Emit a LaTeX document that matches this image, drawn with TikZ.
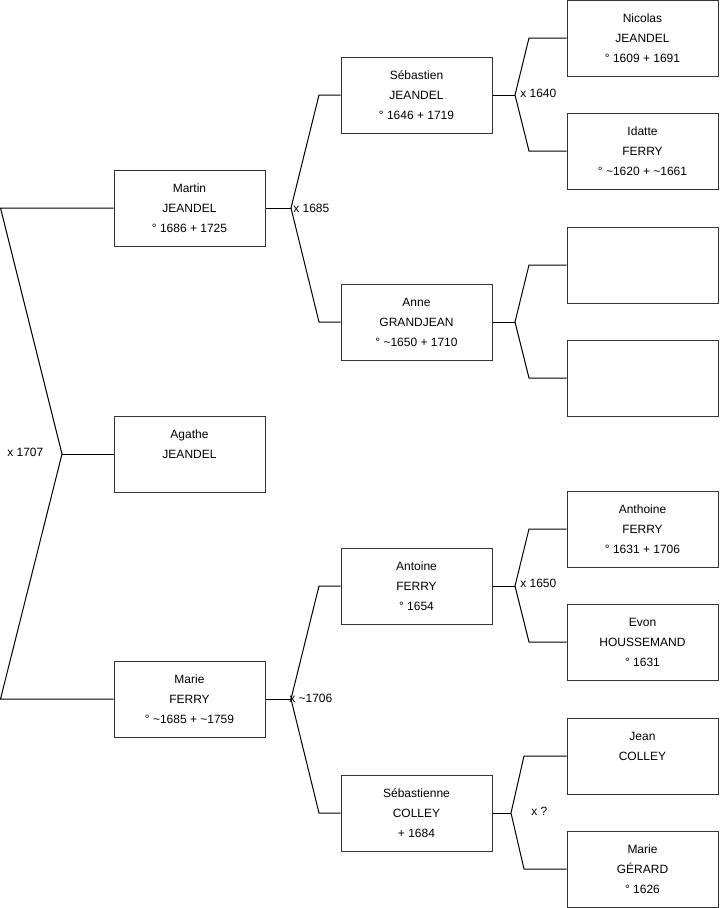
\documentclass[tikz,border=0pt]{standalone}
\usepackage{fontspec}
\setmainfont{Liberation Sans}
\begin{document}
\begin{tikzpicture}[x=0.75pt,y=-0.75pt,
  person/.style={draw=black!80,line width=0.75pt,minimum width=151*0.75pt,minimum height=76*0.75pt,
    inner sep=0pt,align=center,font=\fontsize{9}{15}\selectfont},
  link/.style={draw=black,line width=0.75pt},
  mlabel/.style={anchor=west,inner sep=0pt,font=\fontsize{9}{11}\selectfont}]
\useasboundingbox (0,0) rectangle (719,908);
% level 1
\node[person] (martin) at (189.5,208) {Martin\\JEANDEL\\° 1686 + 1725};
\node[person] (agathe) at (189.5,454) {Agathe\\JEANDEL\\\mbox{}};
\node[person] (marie) at (189.5,699) {Marie\\FERRY\\° \textasciitilde1685 + \textasciitilde1759};
% level 2
\node[person] (sebastien) at (416.5,95) {Sébastien\\JEANDEL\\° 1646 + 1719};
\node[person] (anne) at (416.5,322) {Anne\\GRANDJEAN\\° \textasciitilde1650 + 1710};
\node[person] (antoine) at (416.5,586) {Antoine\\FERRY\\° 1654};
\node[person] (sebastienne) at (416.5,813) {Sébastienne\\COLLEY\\+ 1684};
% level 3
\node[person] (nicolas) at (642.5,38) {Nicolas\\JEANDEL\\° 1609 + 1691};
\node[person] (idatte) at (642.5,151) {Idatte\\FERRY\\° \textasciitilde1620 + \textasciitilde1661};
\node[person] (empa) at (642.5,265) {};
\node[person] (empb) at (642.5,378) {};
\node[person] (anthoine) at (642.5,529) {Anthoine\\FERRY\\° 1631 + 1706};
\node[person] (evon) at (642.5,642) {Evon\\HOUSSEMAND\\° 1631};
\node[person] (jean) at (642.5,756) {Jean\\COLLEY\\\mbox{}};
\node[person] (mgerard) at (642.5,869) {Marie\\GÉRARD\\° 1626};
% root fork
\coordinate (r0) at (62,454);
\coordinate (r1) at (0.5,208);
\coordinate (r2) at (0.5,699);
\draw[link] (martin.west) -- (r1) -- (r0) -- (r2) -- (marie.west);
\draw[link] (r0) -- (agathe.west);
\node[mlabel] (l1707) at (7,452) {x 1707};
% Martin fork
\coordinate (m0) at (291,208);
\coordinate (m1) at (319,95);
\coordinate (m2) at (319,322);
\draw[link] (martin.east) -- (m0);
\draw[link] (sebastien.west) -- (m1) -- (m0) -- (m2) -- (anne.west);
\node[mlabel] (l1685) at (293,208) {x 1685};
% Marie fork
\coordinate (f0) at (291,699);
\coordinate (f1) at (319,586);
\coordinate (f2) at (319,813);
\draw[link] (marie.east) -- (f0);
\draw[link] (antoine.west) -- (f1) -- (f0) -- (f2) -- (sebastienne.west);
\node[mlabel] (l1706) at (289,698) {x \textasciitilde1706};
% Sebastien fork
\coordinate (s0) at (515,95);
\coordinate (s1) at (529,38);
\coordinate (s2) at (529,151);
\draw[link] (sebastien.east) -- (s0);
\draw[link] (nicolas.west) -- (s1) -- (s0) -- (s2) -- (idatte.west);
\node[mlabel] (l1640) at (520,93) {x 1640};
% Anne fork
\coordinate (a0) at (515,322);
\coordinate (a1) at (529,265);
\coordinate (a2) at (529,378);
\draw[link] (anne.east) -- (a0);
\draw[link] (empa.west) -- (a1) -- (a0) -- (a2) -- (empb.west);
% Antoine fork
\coordinate (t0) at (515,586);
\coordinate (t1) at (529,529);
\coordinate (t2) at (529,642);
\draw[link] (antoine.east) -- (t0);
\draw[link] (anthoine.west) -- (t1) -- (t0) -- (t2) -- (evon.west);
\node[mlabel] (l1650) at (520,583) {x 1650};
% Sebastienne fork
\coordinate (c0) at (511,813);
\coordinate (c1) at (524,756);
\coordinate (c2) at (524,869);
\draw[link] (sebastienne.east) -- (c0);
\draw[link] (jean.west) -- (c1) -- (c0) -- (c2) -- (mgerard.west);
\node[mlabel] (lq) at (531,811) {x ?};
\end{tikzpicture}
\end{document}
